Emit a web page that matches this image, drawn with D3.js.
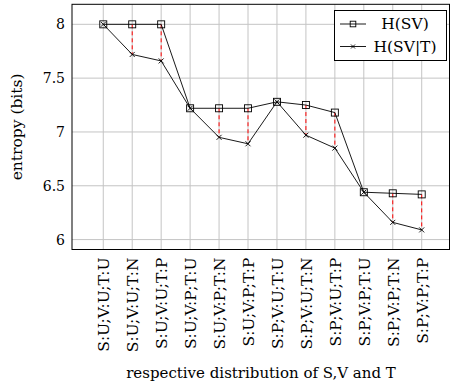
<!DOCTYPE html>
<html>
<head>
<meta charset="utf-8">
<script src="https://cdn.jsdelivr.net/npm/d3@7"></script>
<style>
  body { margin: 0; background: #fff; }
  svg text { font-family: "DejaVu Serif", serif; fill: #000; }
</style>
</head>
<body>
<svg id="chart" width="450" height="388"></svg>
<script>
const categories = [
  'S:U;V:U;T:U', 'S:U;V:U;T:N', 'S:U;V:U;T:P',
  'S:U;V:P;T:U', 'S:U;V:P;T:N', 'S:U;V:P;T:P',
  'S:P;V:U;T:U', 'S:P;V:U;T:N', 'S:P;V:U;T:P',
  'S:P;V:P;T:U', 'S:P;V:P;T:N', 'S:P;V:P;T:P',
];
const hSV = [8, 8, 8, 7.22, 7.22, 7.22, 7.28, 7.25, 7.18, 6.44, 6.43, 6.42];
const hSVgivenT = [8, 7.72, 7.66, 7.22, 6.95, 6.89, 7.28, 6.97, 6.85, 6.44, 6.16, 6.09];
const yTicks = [6, 6.5, 7, 7.5, 8];

const FONT = '"DejaVu Serif", serif';
const svg = d3.select('#chart');
const plot = { left: 72, right: 449.5, top: 4.3, bottom: 249.5 };

const x = d3.scaleLinear()
  .domain([-1.08, 11.96])
  .range([plot.left, plot.right]);
const y = d3.scaleLinear()
  .domain([6 - 9.9 / 107.5, 8 + 20 / 107.5])
  .range([plot.bottom, plot.top]);

const GRID = '#c4c4c4';

// grid
svg.append('g').selectAll('line')
  .data(categories)
  .join('line')
  .attr('x1', (d, i) => x(i)).attr('x2', (d, i) => x(i))
  .attr('y1', plot.top).attr('y2', plot.bottom)
  .attr('stroke', GRID).attr('stroke-width', 1);
svg.append('g').selectAll('line')
  .data(yTicks)
  .join('line')
  .attr('x1', plot.left).attr('x2', plot.right)
  .attr('y1', d => y(d)).attr('y2', d => y(d))
  .attr('stroke', GRID).attr('stroke-width', 1);

// frame
svg.append('rect')
  .attr('x', plot.left).attr('y', plot.top)
  .attr('width', plot.right - plot.left).attr('height', plot.bottom - plot.top)
  .attr('fill', 'none').attr('stroke', '#000').attr('stroke-width', 1);

// y ticks
const yAxis = d3.axisLeft(y).tickValues(yTicks).tickSize(0).tickPadding(7)
  .tickFormat(d3.format('~g'));
const yAxisEl = svg.append('g')
  .attr('transform', `translate(${plot.left},0)`)
  .call(yAxis)
  .attr('font-family', FONT);
yAxisEl.select('.domain').remove();
yAxisEl.selectAll('text')
  .style('font-family', FONT)
  .style('font-size', '14px');

// x ticks rotated
const xAxis = d3.axisBottom(x).tickValues(d3.range(categories.length)).tickSize(0)
  .tickFormat(i => categories[i]);
const xAxisEl = svg.append('g')
  .attr('transform', `translate(0,${plot.bottom})`)
  .call(xAxis)
  .attr('font-family', FONT);
xAxisEl.select('.domain').remove();
xAxisEl.selectAll('text')
  .attr('transform', 'rotate(-90)')
  .attr('x', -8).attr('y', 0).attr('dy', '0.35em')
  .style('text-anchor', 'end')
  .style('font-family', FONT)
  .style('font-size', '15.5px');

// red dashed differences
svg.append('g').selectAll('line')
  .data(hSV.map((v, i) => [i, v, hSVgivenT[i]]).filter(d => d[1] !== d[2]))
  .join('line')
  .attr('x1', d => x(d[0])).attr('x2', d => x(d[0]))
  .attr('y1', d => y(d[1])).attr('y2', d => y(d[2]))
  .attr('stroke', '#f00').attr('stroke-width', 1)
  .attr('stroke-dasharray', '4,3');

const line = d3.line().x((d, i) => x(i)).y(d => y(d));

svg.append('path').datum(hSV)
  .attr('d', line).attr('fill', 'none').attr('stroke', '#000').attr('stroke-width', 0.9);
svg.append('path').datum(hSVgivenT)
  .attr('d', line).attr('fill', 'none').attr('stroke', '#000').attr('stroke-width', 0.9);

function square(g, cx, cy, r = 3.5) {
  g.append('rect')
    .attr('x', cx - r).attr('y', cy - r).attr('width', 2 * r).attr('height', 2 * r)
    .attr('fill', 'none').attr('stroke', '#000').attr('stroke-width', 0.9);
}
function cross(g, cx, cy, r = 2.5) {
  g.append('path')
    .attr('d', `M${cx - r},${cy - r}L${cx + r},${cy + r}M${cx - r},${cy + r}L${cx + r},${cy - r}`)
    .attr('stroke', '#000').attr('stroke-width', 0.9);
}

const marks = svg.append('g');
hSV.forEach((v, i) => square(marks, x(i), y(v)));
hSVgivenT.forEach((v, i) => cross(marks, x(i), y(v)));

// legend
const lg = svg.append('g');
lg.append('rect')
  .attr('x', 334.5).attr('y', 10.5).attr('width', 112).attr('height', 50)
  .attr('fill', '#fff').attr('stroke', '#000').attr('stroke-width', 1);
[['H(SV)', square, 24, 2.8], ['H(SV|T)', cross, 46.5, 2]].forEach(([label, mk, ly, r]) => {
  lg.append('line').attr('x1', 340).attr('x2', 366).attr('y1', ly).attr('y2', ly)
    .attr('stroke', '#000').attr('stroke-width', 0.9);
  mk(lg, 353, ly, r);
  lg.append('text').attr('x', 405).attr('y', ly).attr('dy', '0.35em')
    .attr('text-anchor', 'middle')
    .style('font-family', FONT)
    .style('font-size', '15.5px').text(label);
});

// axis titles
svg.append('text')
  .attr('transform', `translate(22,${(plot.top + plot.bottom) / 2}) rotate(-90)`)
  .attr('text-anchor', 'middle')
  .style('font-family', FONT)
  .style('font-size', '15.5px')
  .text('entropy (bits)');
svg.append('text')
  .attr('x', 261).attr('y', 378)
  .attr('text-anchor', 'middle')
  .style('font-family', FONT)
  .style('font-size', '15px')
  .text('respective distribution of S,V and T');
</script>
</body>
</html>
